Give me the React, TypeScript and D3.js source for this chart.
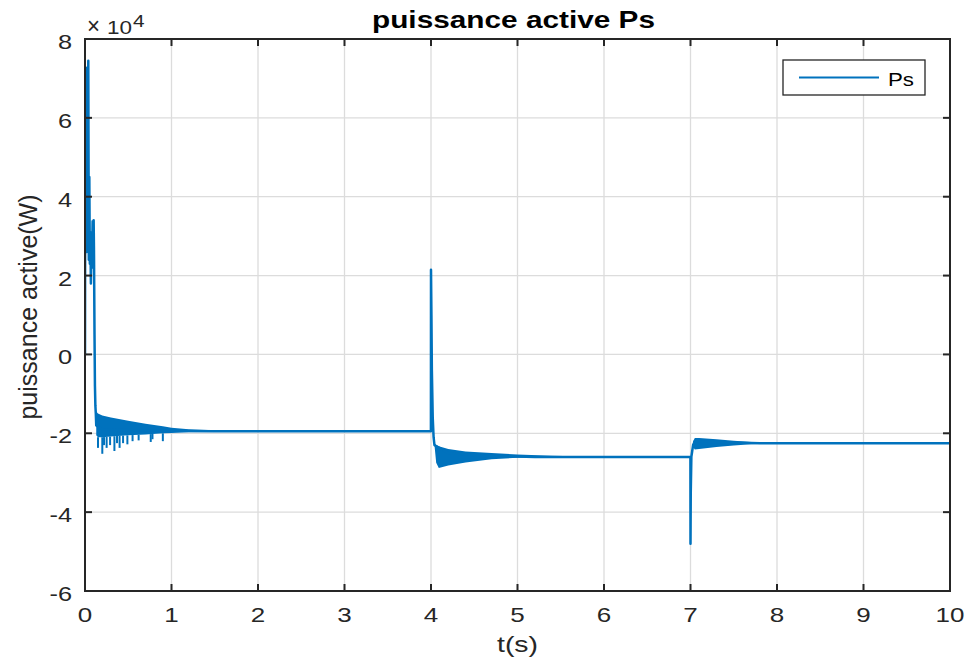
import React from "react";
import * as d3 from "d3";

// Main trace of the stator active power (×1e4 W) versus time (s)
const traceT = [0, 0.003, 0.008, 0.012, 0.018, 0.025, 0.032, 0.038, 0.044, 0.05, 0.056, 0.062, 0.068, 0.074, 0.08, 0.088, 0.094, 0.1, 0.104, 0.11, 0.115, 0.12, 0.125, 0.13, 0.2, 0.5, 1.0, 1.5, 3.999, 4.0, 4.005, 4.01, 4.02, 4.03, 4.04, 4.2, 4.6, 5.2, 6.999, 7.0, 7.003, 7.01, 7.02, 7.03, 7.05, 7.3, 7.8, 10];
const traceV = [0, 5.2, 4.0, 7.27, 2.6, 5.8, 3.0, 7.45, 2.4, 4.5, 2.3, 3.1, 1.8, 2.9, 2.2, 3.38, 2.5, 3.4, 2.6, 0.5, -0.8, -1.3, -1.5, -1.8, -1.9, -1.92, -1.94, -1.95, -1.95, 2.15, 1.0, -0.4, -1.6, -2.1, -2.3, -2.5, -2.57, -2.6, -2.6, -4.8, -3.5, -2.6, -2.45, -2.3, -2.2, -2.22, -2.25, -2.25];

// Ripple envelope after start-up
const band1T = [0.13, 0.15, 0.2, 0.3, 0.5, 0.7, 0.9, 1.0, 1.2, 1.5];
const band1Hi = [-1.45, -1.5, -1.55, -1.6, -1.68, -1.76, -1.82, -1.86, -1.9, -1.92];
const band1Lo = [-2.05, -2.1, -2.1, -2.08, -2.05, -2.03, -2.0, -1.99, -1.97, -1.96];
// Downward ripple spikes in the start-up band
const spikeT = [0.15, 0.2, 0.22, 0.25, 0.29, 0.34, 0.37, 0.4, 0.44, 0.49, 0.55, 0.62, 0.76, 0.78, 0.9];
const spikeV = [-2.37, -2.52, -2.3, -2.37, -2.3, -2.45, -2.25, -2.37, -2.25, -2.28, -2.2, -2.18, -2.22, -2.15, -2.2];

// Ripple envelope after the step at t = 4 s
const band2T = [4.04, 4.06, 4.09, 4.2, 4.4, 4.7, 5.0, 5.4, 5.8];
const band2Hi = [-2.25, -2.3, -2.33, -2.4, -2.46, -2.5, -2.54, -2.57, -2.59];
const band2Lo = [-2.3, -2.75, -2.88, -2.82, -2.74, -2.66, -2.62, -2.61, -2.6];

// Ripple envelope after the step at t = 7 s
const band3T = [7.03, 7.05, 7.1, 7.3, 7.5, 7.7, 7.9, 8.2];
const band3Hi = [-2.2, -2.12, -2.12, -2.15, -2.19, -2.22, -2.24, -2.25];
const band3Lo = [-2.35, -2.41, -2.4, -2.35, -2.31, -2.28, -2.26, -2.25];

const xTicks = [0, 1, 2, 3, 4, 5, 6, 7, 8, 9, 10];
const yTicks = [-6, -4, -2, 0, 2, 4, 6, 8];

const W = 970;
const H = 666;
const M = { left: 85, right: 950, top: 39, bottom: 591 };
const BLUE = "#0072BD";
const INK = "#262626";
const FONT = "'Liberation Sans', Arial, Helvetica, sans-serif";

// Horizontally widened text, anchored at (x, y)
function WideText(props: {
  x: number;
  y: number;
  size: number;
  sx?: number;
  anchor?: "start" | "middle" | "end";
  weight?: string;
  fill?: string;
  children: React.ReactNode;
}) {
  const { x, y, size, sx = 1.3, anchor = "start", weight = "normal", fill = INK, children } = props;
  return (
    <text
      transform={`translate(${x},${y}) scale(${sx},1)`}
      textAnchor={anchor}
      fontSize={size}
      fontWeight={weight}
      fill={fill}
    >
      {children}
    </text>
  );
}

export default function App() {
  const x = d3.scaleLinear().domain([0, 10]).range([M.left, M.right]);
  const y = d3.scaleLinear().domain([-6, 8]).range([M.bottom, M.top]);

  const line = d3
    .line<number>()
    .x((_, i) => x(traceT[i]))
    .y((v) => y(v));

  const makeBand = (ts: number[], hi: number[], lo: number[]) =>
    d3
      .area<number>()
      .x((t) => x(t))
      .y0((_, i) => y(lo[i]))
      .y1((_, i) => y(hi[i]))(ts) || "";

  const loInterp = (t: number) => {
    const i = d3.bisectRight(band1T, t) - 1;
    const j = Math.min(i + 1, band1T.length - 1);
    const f = j === i ? 0 : (t - band1T[i]) / (band1T[j] - band1T[i]);
    return band1Lo[i] + f * (band1Lo[j] - band1Lo[i]);
  };

  const clipId = "plot-clip";

  return (
    <svg
      width={W}
      height={H}
      style={{ position: "absolute", left: 0, top: 0, background: "#fff" }}
      fontFamily={FONT}
    >
      <defs>
        <clipPath id={clipId}>
          <rect x={M.left} y={M.top} width={M.right - M.left} height={M.bottom - M.top} />
        </clipPath>
      </defs>
      <rect x={M.left} y={M.top} width={M.right - M.left} height={M.bottom - M.top} fill="#fff" />

      {/* grid */}
      <g stroke="#dcdcdc" strokeWidth={1.3}>
        {xTicks.slice(1, -1).map((t) => (
          <line key={"gx" + t} x1={x(t)} x2={x(t)} y1={M.top} y2={M.bottom} />
        ))}
        {yTicks.slice(1, -1).map((v) => (
          <line key={"gy" + v} x1={M.left} x2={M.right} y1={y(v)} y2={y(v)} />
        ))}
      </g>

      {/* data */}
      <g clipPath={`url(#${clipId})`}>
        <path d={makeBand(band1T, band1Hi, band1Lo)} fill={BLUE} />
        <path d={makeBand(band2T, band2Hi, band2Lo)} fill={BLUE} />
        <path d={makeBand(band3T, band3Hi, band3Lo)} fill={BLUE} />
        <g stroke={BLUE} strokeWidth={2}>
          {spikeT.map((t, i) => (
            <line key={"sp" + i} x1={x(t)} x2={x(t)} y1={y(loInterp(t))} y2={y(spikeV[i])} />
          ))}
        </g>
        <path d={line(traceV) || ""} fill="none" stroke={BLUE} strokeWidth={2.5} strokeLinejoin="round" />
      </g>

      {/* axes box */}
      <rect
        x={M.left}
        y={M.top}
        width={M.right - M.left}
        height={M.bottom - M.top}
        fill="none"
        stroke={INK}
        strokeWidth={2}
      />
      <g stroke={INK} strokeWidth={2}>
        {xTicks.slice(1, -1).map((t) => (
          <g key={"tx" + t}>
            <line x1={x(t)} x2={x(t)} y1={M.bottom} y2={M.bottom - 7} />
            <line x1={x(t)} x2={x(t)} y1={M.top} y2={M.top + 7} />
          </g>
        ))}
        {yTicks.slice(1, -1).map((v) => (
          <g key={"ty" + v}>
            <line x1={M.left} x2={M.left + 7} y1={y(v)} y2={y(v)} />
            <line x1={M.right} x2={M.right - 7} y1={y(v)} y2={y(v)} />
          </g>
        ))}
      </g>

      {/* tick labels */}
      {xTicks.map((t) => (
        <WideText key={"lx" + t} x={x(t)} y={M.bottom + 31} size={20} anchor="middle">
          {t}
        </WideText>
      ))}
      {yTicks.map((v) => (
        <WideText key={"ly" + v} x={72} y={y(v) + 10} size={19.5} anchor="end">
          {v}
        </WideText>
      ))}

      {/* exponent */}
      <text x={87} y={34} fontSize={24} fill={INK} textLength={13} lengthAdjust="spacingAndGlyphs">
        ×
      </text>
      <text x={107} y={34} fontSize={19} fill={INK} textLength={25} lengthAdjust="spacingAndGlyphs">
        10
      </text>
      <WideText x={133} y={26.5} size={16}>
        4
      </WideText>

      {/* title and axis labels */}
      <text
        x={372}
        y={28}
        fontSize={24}
        fontWeight="bold"
        fill="#000"
        textLength={283}
        lengthAdjust="spacingAndGlyphs"
      >
        puissance active Ps
      </text>
      <text
        x={497}
        y={652}
        fontSize={22}
        fill={INK}
        textLength={41}
        lengthAdjust="spacingAndGlyphs"
      >
        t(s)
      </text>
      <text
        transform={`translate(37, 307) rotate(-90)`}
        textAnchor="middle"
        fontSize={25}
        fill={INK}
      >
        puissance active(W)
      </text>

      {/* legend */}
      <g>
        <rect x={783} y={60} width={142} height={35} fill="#fff" stroke={INK} strokeWidth={1.3} />
        <line x1={799} x2={879} y1={77.5} y2={77.5} stroke={BLUE} strokeWidth={2} />
        <text x={888} y={86} fontSize={19} fill="#000" textLength={26} lengthAdjust="spacingAndGlyphs">
          Ps
        </text>
      </g>
    </svg>
  );
}
